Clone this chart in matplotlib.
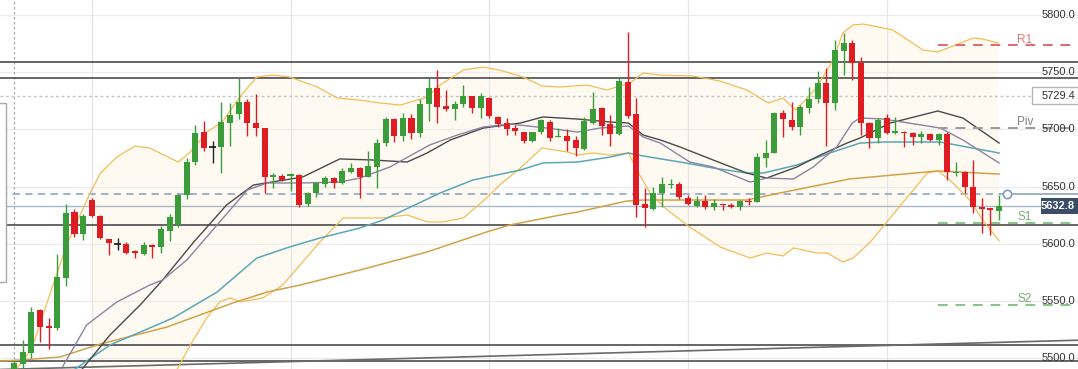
import numpy as np
import matplotlib.pyplot as plt
from matplotlib.patches import Rectangle

# ---------------------------------------------------------------------------
# candles
opens = [5488.0, 5495.0, 5504.4, 5542.2, 5528.2, 5526.2, 5569.9, 5627.6, 5608.4, 5638.3,
         5624.3, 5604.0, 5599.6, 5599.6, 5593.8, 5591.1, 5599.0, 5597.5, 5611.5, 5616.5,
         5642.7, 5671.8, 5698.0, 5684.4, 5684.4, 5705.9, 5713.2, 5723.7, 5705.9, 5701.0,
         5658.7, 5659.6, 5659.3, 5660.2, 5634.8, 5644.7, 5652.3, 5657.3, 5652.9, 5663.1,
         5666.6, 5658.7, 5666.9, 5687.9, 5708.9, 5694.3, 5709.7, 5697.2, 5722.0, 5735.9,
         5720.7, 5717.6, 5722.0, 5729.2, 5719.0, 5727.2, 5711.1, 5705.4, 5701.0, 5697.5,
         5690.0, 5697.5, 5706.8, 5693.1, 5694.6, 5690.8, 5682.7, 5705.9, 5718.8, 5704.7,
         5696.0, 5741.7, 5713.1, 5634.8, 5630.2, 5644.2, 5651.2, 5652.0, 5639.8, 5633.4,
         5637.7, 5631.9, 5634.8, 5634.0, 5632.5, 5637.2, 5636.8, 5674.8, 5679.7, 5714.6,
         5708.2, 5702.4, 5718.5, 5726.6, 5740.3, 5723.4, 5768.8, 5775.8, 5758.3, 5705.9,
         5692.2, 5709.7, 5696.6, 5698.0, 5696.6, 5693.1, 5695.7, 5690.8, 5695.7, 5662.2,
         5663.1, 5649.4, 5631.9, 5631.1, 5629.0]
highs = [5498.0, 5516.0, 5544.5, 5543.0, 5535.0, 5590.9, 5634.8, 5630.5, 5626.0, 5640.3,
         5625.0, 5604.5, 5604.9, 5601.4, 5595.0, 5601.4, 5599.5, 5615.9, 5626.0, 5644.0,
         5674.6, 5703.9, 5707.4, 5689.9, 5723.7, 5723.4, 5744.7, 5726.6, 5730.7, 5701.5,
         5662.2, 5661.0, 5662.2, 5661.0, 5645.5, 5653.5, 5659.6, 5658.0, 5666.0, 5670.4,
         5667.5, 5681.4, 5691.6, 5711.1, 5710.0, 5714.6, 5713.5, 5726.3, 5744.7, 5751.9,
         5734.5, 5725.0, 5738.8, 5729.5, 5731.6, 5728.5, 5712.0, 5710.0, 5704.0, 5698.0,
         5698.0, 5709.5, 5708.5, 5701.0, 5700.1, 5694.0, 5710.6, 5733.0, 5719.5, 5712.6,
         5745.6, 5785.4, 5727.2, 5648.6, 5650.0, 5658.2, 5657.0, 5654.4, 5643.0, 5642.0,
         5643.0, 5639.0, 5635.0, 5636.0, 5638.5, 5640.0, 5679.1, 5690.8, 5715.5, 5717.0,
         5724.3, 5721.5, 5737.4, 5751.3, 5753.4, 5778.2, 5784.0, 5778.0, 5763.0, 5706.5,
         5710.0, 5713.2, 5710.6, 5699.0, 5698.0, 5698.5, 5697.0, 5697.0, 5697.5, 5671.8,
         5663.5, 5673.3, 5639.8, 5631.5, 5642.7]
lows = [5484.0, 5491.5, 5500.0, 5514.5, 5507.9, 5525.0, 5563.2, 5605.7, 5603.4, 5623.8,
        5604.0, 5590.3, 5594.6, 5591.0, 5587.9, 5590.0, 5588.0, 5592.0, 5602.8, 5615.0,
        5639.0, 5669.0, 5681.0, 5671.0, 5662.2, 5685.5, 5708.9, 5694.3, 5694.3, 5644.2,
        5648.6, 5654.5, 5646.5, 5632.5, 5633.0, 5641.2, 5650.0, 5648.6, 5652.0, 5662.0,
        5639.8, 5658.0, 5649.1, 5685.5, 5689.3, 5690.0, 5691.4, 5693.0, 5707.6, 5705.9,
        5716.0, 5708.2, 5720.0, 5714.6, 5709.7, 5710.0, 5702.4, 5695.1, 5695.1, 5688.4,
        5689.0, 5696.0, 5690.2, 5693.0, 5681.4, 5677.0, 5682.0, 5705.0, 5695.1, 5685.5,
        5695.0, 5709.7, 5623.8, 5615.0, 5629.5, 5632.5, 5648.6, 5639.5, 5634.0, 5632.5,
        5630.5, 5630.0, 5629.6, 5631.5, 5630.0, 5634.0, 5636.5, 5667.5, 5679.0, 5693.7,
        5699.5, 5695.1, 5714.1, 5722.8, 5685.5, 5717.0, 5747.6, 5743.2, 5695.1, 5683.5,
        5688.4, 5696.0, 5696.0, 5684.4, 5686.4, 5688.1, 5690.0, 5686.4, 5655.8, 5659.3,
        5644.7, 5626.7, 5609.8, 5607.7, 5620.8]
closes = [5495.6, 5505.8, 5540.7, 5527.6, 5526.2, 5570.8, 5626.7, 5608.6, 5624.6, 5624.3,
          5604.9, 5600.5, 5599.6, 5592.3, 5591.7, 5598.7, 5597.5, 5612.7, 5623.2, 5642.7,
          5671.8, 5697.2, 5683.5, 5684.4, 5706.2, 5712.6, 5723.7, 5705.9, 5701.0, 5658.2,
          5660.2, 5655.8, 5661.0, 5634.0, 5644.2, 5652.9, 5657.3, 5653.5, 5664.0, 5666.0,
          5658.7, 5668.0, 5687.9, 5708.9, 5694.3, 5709.7, 5696.6, 5722.0, 5735.9, 5719.9,
          5717.9, 5722.2, 5729.2, 5719.0, 5729.2, 5711.7, 5704.5, 5700.1, 5698.6, 5690.2,
          5697.5, 5708.2, 5692.2, 5694.3, 5690.2, 5683.5, 5707.4, 5717.9, 5703.0, 5696.0,
          5742.3, 5711.7, 5634.0, 5631.1, 5644.2, 5652.0, 5652.0, 5640.7, 5634.8, 5637.7,
          5631.9, 5635.4, 5634.0, 5632.0, 5637.7, 5636.6, 5675.6, 5679.7, 5714.1, 5708.9,
          5702.4, 5719.4, 5726.6, 5740.3, 5723.4, 5769.4, 5775.3, 5758.3, 5705.4, 5692.8,
          5708.2, 5697.2, 5698.6, 5696.6, 5693.1, 5696.0, 5690.8, 5695.7, 5663.1, 5663.1,
          5649.4, 5632.5, 5630.2, 5629.6, 5632.8]

# indicator lines: x = candle index, y = price
bb_upper_x = [0.4, 2.0, 4.2, 6.1, 8.8, 10.0, 11.9, 14.0, 15.7, 19.0, 20.4, 22.3, 24.1, 25.3,
              26.5, 28.1, 30.0, 31.9, 35.1, 37.4, 40.0, 42.4, 44.7, 47.8, 49.3, 52.0, 54.3,
              56.2, 58.9, 61.1, 63.2, 66.3, 68.6, 71.3, 72.8, 74.8, 78.6, 81.7, 84.8, 87.3,
              89.0, 90.4, 91.8, 92.9, 94.8, 95.9, 97.1, 98.3, 101.7, 105.2, 106.9, 111.0,
              112.1, 113.9]
bb_upper_y = [5492.0, 5507.2, 5557.0, 5599.0, 5644.4, 5661.9, 5675.9, 5685.5, 5683.8, 5671.5,
              5680.3, 5697.7, 5706.5, 5719.6, 5731.8, 5745.8, 5747.6, 5745.8, 5737.1, 5727.5,
              5725.7, 5723.1, 5721.3, 5728.3, 5738.8, 5751.9, 5754.5, 5751.9, 5745.8, 5738.0,
              5737.1, 5738.8, 5734.5, 5740.6, 5749.3, 5747.6, 5746.7, 5742.3, 5734.5, 5723.1,
              5727.5, 5717.0, 5727.5, 5737.1, 5760.7, 5784.3, 5791.3, 5792.1, 5786.9, 5769.4,
              5767.7, 5779.9, 5779.0, 5775.5]
bb_lower_x = [9.0, 17.5, 18.9, 20.4, 22.3, 23.8, 25.0, 26.2, 28.8, 31.1, 35.4, 38.1, 40.0,
              42.7, 45.5, 47.9, 49.6, 52.0, 54.7, 56.2, 58.6, 61.1, 64.0, 65.2, 67.0, 69.0,
              71.1, 72.1, 73.6, 75.6, 78.2, 81.7, 85.2, 87.1, 89.0, 90.2, 92.9, 94.1, 95.9,
              97.1, 99.1, 101.0, 103.3, 105.7, 106.9, 108.3, 110.6, 112.1, 114.0]
bb_lower_y = [5440.0, 5472.0, 5490.6, 5511.6, 5535.2, 5549.2, 5552.7, 5549.2, 5552.7, 5564.0,
              5601.6, 5622.6, 5622.6, 5622.6, 5625.2, 5619.1, 5619.1, 5622.6, 5640.1, 5651.4,
              5666.3, 5683.8, 5680.3, 5677.6, 5679.4, 5677.6, 5679.4, 5664.5, 5644.4, 5629.6,
              5614.7, 5597.3, 5587.6, 5592.0, 5589.4, 5596.4, 5592.0, 5592.0, 5584.1, 5587.6,
              5601.6, 5619.1, 5640.1, 5661.9, 5663.7, 5655.8, 5638.3, 5620.8, 5602.5]

ma_slow_x = [7.5, 11.1, 14.6, 17.2, 20.7, 24.6, 27.7, 33.4, 37.7, 41.5, 45.5, 47.8, 50.5,
             54.3, 58.6, 61.2, 65.2, 69.0, 71.1, 72.8, 74.8, 77.1, 80.9, 84.8, 87.1, 90.6,
             93.3, 96.4, 97.9, 101.4, 106.9, 109.8, 114.0]
ma_slow_y = [5487.0, 5520.3, 5546.6, 5568.4, 5600.7, 5634.0, 5651.4, 5658.4, 5674.2, 5673.3,
             5671.5, 5679.4, 5690.8, 5701.2, 5705.6, 5710.9, 5709.1, 5706.5, 5705.6, 5695.1,
             5690.8, 5684.6, 5673.3, 5661.9, 5657.5, 5667.2, 5677.6, 5688.1, 5692.5, 5705.6,
             5716.1, 5710.0, 5688.1]
ma_fast_x = [5.2, 8.4, 11.9, 15.7, 17.2, 20.0, 23.5, 27.0, 29.3, 33.4, 37.7, 40.0, 43.5,
             48.1, 51.3, 54.3, 57.4, 61.7, 65.2, 67.8, 71.1, 72.8, 74.8, 78.2, 80.9, 85.2,
             87.1, 90.2, 92.5, 95.2, 97.0, 97.9, 100.6, 107.2, 109.8, 114.0]
ma_fast_y = [5487.0, 5529.1, 5549.2, 5564.0, 5568.4, 5585.9, 5616.5, 5647.1, 5653.2, 5653.2,
             5654.0, 5657.5, 5667.2, 5686.4, 5695.1, 5702.1, 5704.7, 5701.2, 5697.7, 5701.2,
             5703.0, 5693.4, 5688.1, 5671.5, 5667.2, 5654.0, 5657.5, 5656.7, 5667.2, 5684.6,
             5705.6, 5710.0, 5709.1, 5701.2, 5690.8, 5670.7]
ma_mid_x = [6.0, 11.1, 18.4, 23.5, 28.1, 31.9, 35.4, 40.0, 42.7, 49.3, 53.1, 58.6, 61.2,
            65.2, 69.0, 71.1, 72.8, 77.1, 80.9, 84.8, 86.7, 90.6, 94.4, 97.9, 100.6, 107.2,
            110.3, 114.0]
ma_mid_y = [5485.0, 5511.6, 5535.2, 5557.9, 5587.6, 5597.3, 5605.1, 5613.8, 5620.8, 5644.4,
            5655.8, 5664.5, 5670.7, 5671.5, 5675.9, 5679.4, 5676.8, 5671.5, 5666.3, 5661.9,
            5661.9, 5668.9, 5679.4, 5688.1, 5689.0, 5689.0, 5684.6, 5679.4]
ma_long_x = [-1.6, 0.7, 5.3, 10.0, 17.7, 25.3, 29.3, 33.1, 40.0, 47.8, 54.7, 57.4, 63.2,
             65.2, 70.9, 72.8, 78.2, 84.8, 88.6, 94.4, 96.7, 106.9, 114.0]
ma_long_y = [5497.6, 5498.5, 5501.1, 5512.5, 5527.3, 5548.3, 5557.9, 5564.0, 5577.1, 5592.9,
             5610.4, 5616.5, 5625.2, 5627.8, 5637.4, 5638.3, 5638.3, 5638.3, 5644.4, 5653.2,
             5656.7, 5663.7, 5661.0]

# horizontal levels
black_levels = [5759.0, 5745.0, 5616.5, 5511.6, 5497.6]
trend_x = [-1.62, 123.13]
trend_y = [5490.2, 5515.8]
prev_level = 5729.4
ask_level = 5643.7
last_price = 5632.8
pivot_names = ["R1", "Piv", "S1", "S2"]
pivot_levels = [5773.8, 5701.0, 5618.2, 5546.6]
pivot_label_y = [5778.1, 5706.5, 5623.9, 5551.4]
pivot_colors = ["#e06a6a", "#9a9a9a", "#86c386", "#86c386"]
pivot_text = ["#e07a7a", "#808080", "#77ad77", "#77ad77"]
price_ticks = [5500.0, 5550.0, 5600.0, 5650.0, 5700.0, 5750.0, 5800.0]
time_grid = [9, 32, 55, 78, 101]
# ---------------------------------------------------------------------------

plt.rcParams['font.family'] = ['Liberation Sans', 'DejaVu Sans']

x0, x1 = -1.62, 123.13
y0, y1 = 5490.64, 5813.11

fig = plt.figure(figsize=(10.78, 3.69), dpi=100)
ax = fig.add_axes((0, 0, 1, 1))
ax.set_xlim(x0, x1)
ax.set_ylim(y0, y1)
ax.axis('off')

# bollinger fill
up_x = np.array(bb_upper_x)
up_y = np.array(bb_upper_y)
keep = up_x >= 8.8
px = list(up_x[keep]) + bb_lower_x[::-1]
py = list(up_y[keep]) + bb_lower_y[::-1]
ax.fill(px, py, color="#fefaf1", lw=0, zorder=0.5)

# grid
for v in price_ticks:
    ax.axhline(v, color="#ebebeb", lw=0.9, zorder=1)
for t in time_grid:
    ax.axvline(t, color="#e6e6e6", lw=0.9, zorder=1)
ax.axvline(0, color="#aaaaaa", lw=0.9, ls=(0, (2, 2)), zorder=1)

for v in black_levels:
    ax.axhline(v, color="#3c3c3c", lw=1.1, zorder=2)
ax.plot(trend_x, trend_y, color="#6a6a6a", lw=1.2, zorder=2)

ax.axhline(prev_level, color="#c4c4c4", lw=1.0, ls=(0, (2, 2)), zorder=2)
ax.plot([x0, 114.9], [ask_level, ask_level], color="#96acc9", lw=1.3,
        ls=(0, (4, 3)), zorder=2)
ax.plot([114.9, x1], [ask_level, ask_level], color="#96acc9", lw=1.3, zorder=2)
ax.plot([114.9], [ask_level], 'o', mfc="white", mec="#7f9cc4", ms=6, mew=1.2, zorder=9)
ax.axhline(last_price, color="#aab8c8", lw=1.0, zorder=2)

# indicators
ax.plot(bb_upper_x, bb_upper_y, color="#f3bd55", lw=0.9, zorder=3)
ax.plot(bb_lower_x, bb_lower_y, color="#f3bd55", lw=0.9, zorder=3)
ax.plot(ma_long_x, ma_long_y, color="#d2a24a", lw=1.1, zorder=3)
ax.plot(ma_mid_x, ma_mid_y, color="#5aa7b8", lw=1.1, zorder=3)
ax.plot(ma_slow_x, ma_slow_y, color="#4a4a4a", lw=1.0, zorder=3)
ax.plot(ma_fast_x, ma_fast_y, color="#8c83a3", lw=1.0, zorder=3)

# pivot lines
for name, lv, ly, lc, tc in zip(pivot_names, pivot_levels, pivot_label_y,
                                pivot_colors, pivot_text):
    ax.plot([106.9, x1], [lv, lv], color=lc, lw=1.4, ls=(0, (5, 4)), zorder=3)
    ax.text(117.0, ly, name, color=tc, fontsize=8.5, ha='center', va='center', zorder=9)

# candles
o = np.array(opens)
h = np.array(highs)
l = np.array(lows)
c = np.array(closes)
idx = np.arange(len(o))
cols = np.where(c > o, "#3a9d3a", np.where(c < o, "#de1c24", "#222222"))
ax.vlines(idx, l, h, colors=cols, lw=1.0, zorder=5)
body_lo = np.minimum(o, c)
body_h = np.maximum(np.abs(c - o), 1.0)
solid = c != o
ax.bar(idx[solid], body_h[solid], bottom=body_lo[solid], width=0.7,
       color=cols[solid], lw=0, zorder=6)
ax.hlines(o[~solid], idx[~solid] - 0.38, idx[~solid] + 0.38, colors="#222222",
          lw=1.3, zorder=6)

# left panel edge
ax.add_patch(Rectangle((x0 - 1, 5566.7), -0.87 - x0 + 1, 5723.1 - 5566.7,
                       facecolor="white", edgecolor="#a8a8a8", lw=1.0, zorder=4))

# price axis labels
for v in price_ticks:
    ax.text(122.8, v, f"{v:.1f}", color="#333333", fontsize=8, ha='right',
            va='center', zorder=9)

ax.add_patch(Rectangle((117.8, 5722.2), 6, 5737.1 - 5722.2, facecolor="white",
                       edgecolor="#b5b5b5", lw=1.0, zorder=8))
ax.text(122.8, prev_level, f"{prev_level:.1f}", color="#333333", fontsize=8,
        ha='right', va='center', zorder=9)
ax.add_patch(Rectangle((118.85, 5626.1), 6, 5640.1 - 5626.1, facecolor="#3b4c67",
                       edgecolor="none", zorder=8))
ax.text(122.8, last_price, f"{last_price:.1f}", color="white", fontsize=8,
        fontweight='bold', ha='right', va='center', zorder=9)

fig.savefig("out.png", dpi=100)
